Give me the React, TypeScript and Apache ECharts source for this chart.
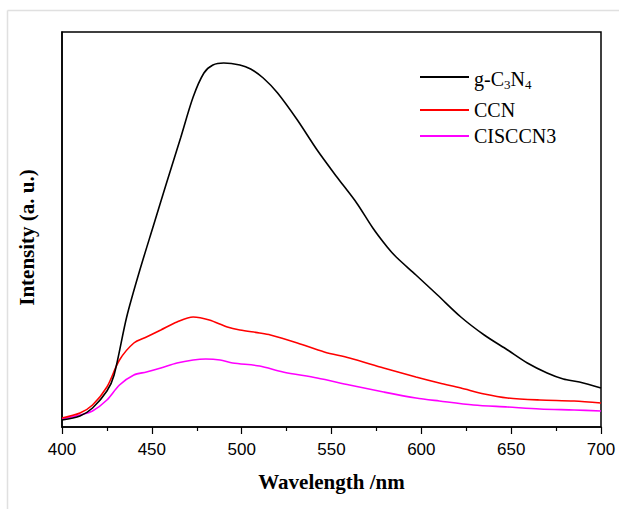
import React, { useEffect, useRef } from "react";
import * as echarts from "echarts";

const xTicks = [400, 450, 500, 550, 600, 650, 700];

const gc3n4Wl = [400, 410, 417, 425, 429, 436, 443, 451, 458, 466, 473, 479, 484, 490, 499, 505, 512, 520, 531, 542, 553, 564, 573, 581, 586, 597, 609, 622, 635, 648, 659, 670, 679, 688, 700];
const gc3n4Int = [7, 11, 19, 36, 52, 110, 155, 202, 243, 289, 330, 354, 362, 364, 362, 358, 349, 334, 307, 277, 250, 224, 199, 180, 170, 152, 132, 110, 92, 77, 64, 54, 48, 45, 39];

const ccnWl = [400, 410, 417, 425, 432, 440, 447, 455, 464, 473, 482, 492, 499, 510, 516, 531, 546, 560, 579, 597, 610, 622, 635, 648, 666, 685, 700];
const ccnInt = [9, 14, 22, 40, 67, 84, 90, 97, 105, 110, 107, 100, 97, 94, 92, 84, 75, 69, 59, 50, 44, 39, 33, 29, 27, 26, 24];

const cisWl = [400, 410, 417, 425, 432, 440, 447, 455, 464, 473, 480, 488, 495, 510, 523, 542, 560, 579, 597, 610, 629, 648, 666, 685, 700];
const cisInt = [8, 12, 16, 27, 42, 52, 55, 59, 64, 67, 68, 67, 64, 61, 55, 49, 42, 35, 29, 26, 22, 20, 18, 17, 16];

const seriesNames = ["g-C3N4", "CCN", "CISCCN3"];
const seriesColors = ["#000000", "#ff0000", "#ff00ff"];

const zip = (xs: number[], ys: number[]) => xs.map((x, i) => [x, ys[i]]);

export default function App() {
  const ref = useRef<HTMLDivElement>(null);
  useEffect(() => {
    if (!ref.current) return;
    const chart = echarts.init(ref.current, null, { renderer: "svg" });
    const serif = "'Liberation Serif', 'Times New Roman', serif";
    const sans = "'Liberation Sans', Arial, sans-serif";
    const datasets = [zip(gc3n4Wl, gc3n4Int), zip(ccnWl, ccnInt), zip(cisWl, cisInt)];
    const legendY = [77, 110, 136];
    const legendGraphics: any[] = [];
    seriesNames.forEach((name, i) => {
      legendGraphics.push({
        type: "line",
        shape: { x1: 420, y1: legendY[i], x2: 469, y2: legendY[i] },
        style: { stroke: seriesColors[i], lineWidth: 1.8 },
      });
      const isG = name === "g-C3N4";
      legendGraphics.push({
        type: "text",
        x: 474,
        y: legendY[i] + (isG ? 3 : 0),
        style: {
          text: isG ? "{a|g-C}{s|3}{a|N}{s|4}" : name,
          font: `20px ${serif}`,
          fill: "#000",
          verticalAlign: "middle",
          align: "left",
          rich: isG
            ? {
                a: { fontSize: 20, fontFamily: serif, lineHeight: 22, verticalAlign: "top" },
                s: { fontSize: 13, fontFamily: serif, lineHeight: 13, verticalAlign: "bottom" },
              }
            : undefined,
        },
      });
    });
    chart.setOption({
      animation: false,
      backgroundColor: "#fff",
      grid: {
        left: 62,
        right: 18,
        top: 32,
        bottom: 82,
        show: true,
        borderColor: "#000",
        borderWidth: 1.5,
      },
      xAxis: {
        type: "value",
        min: 400,
        max: 700,
        interval: 50,
        name: "Wavelength /nm",
        nameLocation: "middle",
        nameGap: 44,
        nameTextStyle: { fontFamily: serif, fontWeight: "bold", fontSize: 21, color: "#000" },
        axisLine: { show: true, lineStyle: { color: "#000", width: 1.5 } },
        axisTick: { show: true, inside: false, length: 7, lineStyle: { color: "#000", width: 1.2 } },
        minorTick: { show: true, splitNumber: 2, length: 4, lineStyle: { color: "#000", width: 1.2 } },
        axisLabel: {
          fontFamily: sans,
          fontSize: 17,
          color: "#000",
          margin: 14,
          formatter: (v: number) => (xTicks.includes(v) ? String(v) : ""),
        },
        splitLine: { show: false },
      },
      yAxis: {
        type: "value",
        min: 0,
        max: 395,
        name: "Intensity (a. u.)",
        nameLocation: "middle",
        nameGap: 25,
        nameTextStyle: {
          fontFamily: serif,
          fontWeight: "bold",
          fontSize: 21,
          color: "#000",
          padding: [0, 16, 0, 0],
        },
        axisLine: { show: true, lineStyle: { color: "#000", width: 1.5 } },
        axisTick: { show: false },
        axisLabel: { show: false },
        splitLine: { show: false },
      },
      series: seriesNames.map((name, i) => ({
        name,
        type: "line",
        data: datasets[i],
        smooth: 0.3,
        showSymbol: false,
        symbol: "none",
        lineStyle: { color: seriesColors[i], width: 1.6 },
        itemStyle: { color: seriesColors[i] },
        z: 3 - i,
      })),
      graphic: [
        { type: "line", shape: { x1: 7.5, y1: 10.5, x2: 619, y2: 10.5 }, style: { stroke: "#e0e0e0", lineWidth: 1.5 } },
        { type: "line", shape: { x1: 7.5, y1: 10.5, x2: 7.5, y2: 509 }, style: { stroke: "#e0e0e0", lineWidth: 1.5 } },
        ...legendGraphics,
      ],
    });
    return () => chart.dispose();
  }, []);
  return (
    <div
      ref={ref}
      style={{ position: "fixed", left: 0, top: 0, width: 619, height: 509, background: "#fff" }}
    />
  );
}
